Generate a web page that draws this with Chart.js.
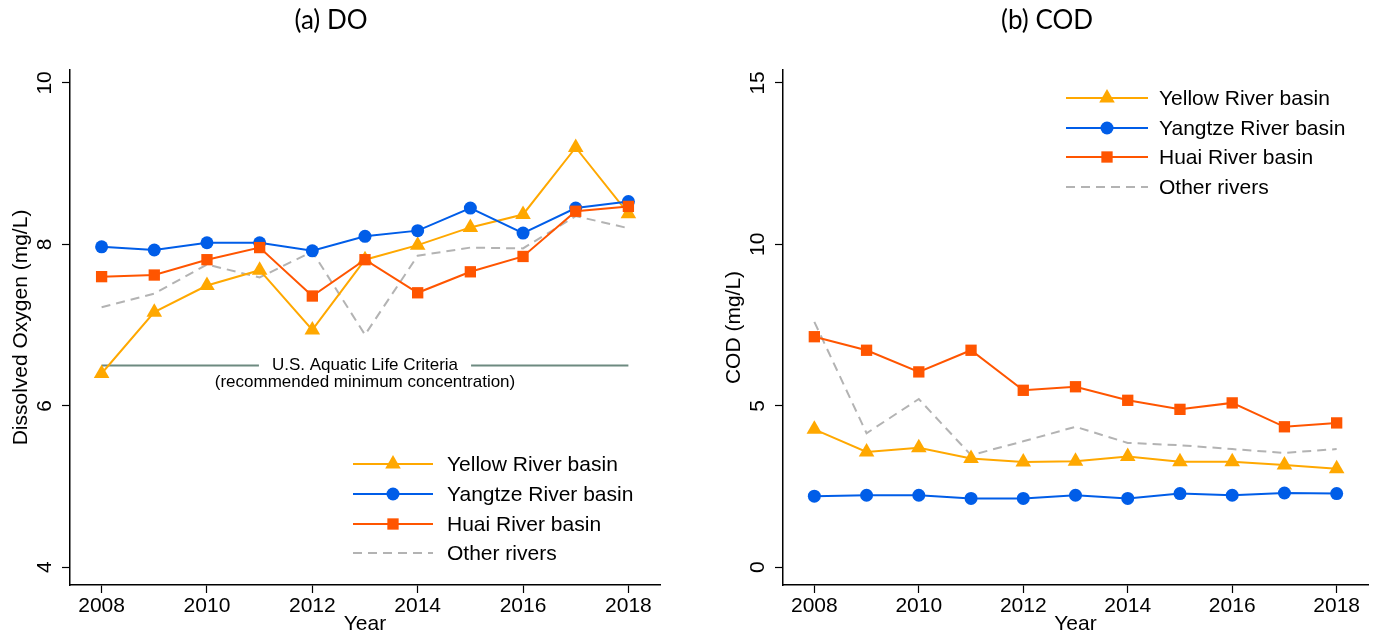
<!DOCTYPE html>
<html>
<head>
<meta charset="utf-8">
<script src="https://cdn.jsdelivr.net/npm/chart.js@4.4.1/dist/chart.umd.min.js"></script>
<style>
  body { margin: 0; background: #fff; }
  .panel { position: absolute; top: 0; height: 635px; }
  #left { left: 0; width: 688px; }
  #right { left: 688px; width: 689px; }
</style>
</head>
<body>
<div class="panel" id="left"><canvas id="chartDO"></canvas></div>
<div class="panel" id="right"><canvas id="chartCOD"></canvas></div>
<script>
// data
var years = [2008, 2009, 2010, 2011, 2012, 2013, 2014, 2015, 2016, 2017, 2018];
var yearTicks = [2008, 2010, 2012, 2014, 2016, 2018];
var seriesNames = ['Yellow River basin', 'Yangtze River basin', 'Huai River basin', 'Other rivers'];

// (a) dissolved oxygen, mg/L
var doYellow  = [6.40, 7.16, 7.49, 7.68, 6.94, 7.81, 7.99, 8.21, 8.37, 9.20, 8.38];
var doYangtze = [7.97, 7.93, 8.02, 8.02, 7.92, 8.10, 8.17, 8.45, 8.14, 8.45, 8.53];
var doHuai    = [7.60, 7.62, 7.81, 7.96, 7.36, 7.81, 7.40, 7.66, 7.85, 8.41, 8.47];
var doOther   = [7.22, 7.39, 7.75, 7.59, 7.91, 6.88, 7.86, 7.96, 7.95, 8.35, 8.20];
var doTicks = [4, 6, 8, 10];
var doCriteria = 6.5;

// (b) chemical oxygen demand, mg/L
var codYellow  = [4.27, 3.57, 3.70, 3.37, 3.26, 3.28, 3.43, 3.27, 3.27, 3.17, 3.05];
var codYangtze = [2.20, 2.23, 2.23, 2.13, 2.13, 2.23, 2.13, 2.28, 2.23, 2.30, 2.28];
var codHuai    = [7.14, 6.72, 6.05, 6.72, 5.48, 5.59, 5.17, 4.89, 5.09, 4.35, 4.47];
var codOther   = [7.60, 4.15, 5.21, 3.47, 3.90, 4.35, 3.85, 3.78, 3.66, 3.54, 3.66];
var codTicks = [0, 5, 10, 15];

var colors = ['#ffa800', '#005de8', '#ff5500', '#b3b3b3'];
var styles = ['triangle', 'circle', 'rect', false];
var radii = [9, 6.5, 8, 0];
var order = [2, 1, 0, 3];
var FONT = '"Liberation Sans", Arial, sans-serif';

function pts(vals) {
  return years.map(function (y, i) { return { x: y, y: vals[i] }; });
}

function makeDatasets(list) {
  return list.map(function (vals, i) {
    return {
      label: seriesNames[i],
      data: pts(vals),
      borderColor: colors[i],
      backgroundColor: colors[i],
      borderWidth: 2,
      borderDash: i === 3 ? [9, 6] : [],
      pointStyle: styles[i],
      pointRadius: radii[i],
      pointBorderWidth: 0,
      pointBackgroundColor: colors[i],
      order: order[i],
      tension: 0
    };
  });
}

// panel title + legend drawn in fixed spots like the original figure
var decor = {
  id: 'decor',
  afterDraw: function (chart, args, opts) {
    var ctx = chart.ctx;
    ctx.save();
    ctx.fillStyle = '#000';
    ctx.font = '26px Lato, "Open Sans", sans-serif';
    ctx.textAlign = 'center';
    ctx.textBaseline = 'middle';
    ctx.fillText(opts.title, opts.titleX, 21);

    var L = opts.legend;
    ctx.font = '21px ' + FONT;
    ctx.textAlign = 'left';
    seriesNames.forEach(function (name, i) {
      var y = L.rows[i];
      ctx.strokeStyle = colors[i];
      ctx.lineWidth = 2;
      ctx.setLineDash(i === 3 ? [9, 6] : []);
      ctx.beginPath();
      ctx.moveTo(L.x0, y);
      ctx.lineTo(L.x1, y);
      ctx.stroke();
      ctx.setLineDash([]);
      if (styles[i]) {
        ctx.fillStyle = colors[i];
        Chart.helpers.drawPoint(ctx, {
          pointStyle: styles[i], radius: radii[i], borderWidth: 0, rotation: 0
        }, (L.x0 + L.x1) / 2, y);
      }
      ctx.fillStyle = '#000';
      ctx.fillText(name, L.tx, y + 1);
    });
    ctx.restore();
  }
};

// U.S. criteria reference line on the DO panel
var criteria = {
  id: 'criteria',
  beforeDatasetsDraw: function (chart) {
    if (chart.canvas.id !== 'chartDO') return;
    var ctx = chart.ctx;
    var xs = chart.scales.x, ys = chart.scales.y;
    var y = ys.getPixelForValue(doCriteria);
    var x0 = xs.getPixelForValue(years[0]);
    var x1 = xs.getPixelForValue(years[years.length - 1]);
    var mid = (x0 + x1) / 2;
    ctx.save();
    ctx.font = '17px ' + FONT;
    var w = ctx.measureText('U.S. Aquatic Life Criteria').width;
    ctx.strokeStyle = '#6d8a80';
    ctx.lineWidth = 2;
    ctx.beginPath();
    ctx.moveTo(x0, y); ctx.lineTo(mid - w / 2 - 13, y);
    ctx.moveTo(mid + w / 2 + 13, y); ctx.lineTo(x1, y);
    ctx.stroke();
    ctx.fillStyle = '#000';
    ctx.textAlign = 'center';
    ctx.textBaseline = 'middle';
    ctx.fillText('U.S. Aquatic Life Criteria', mid, y);
    ctx.fillText('(recommended minimum concentration)', mid, y + 17);
    ctx.restore();
  }
};

function makeChart(id, datasets, yMin, yMax, yTicks, yTitle, yWidth, yTitlePad, padRight, decorOpts) {
  return new Chart(document.getElementById(id), {
    type: 'line',
    data: { datasets: datasets },
    plugins: [criteria, decor],
    options: {
      responsive: true,
      maintainAspectRatio: false,
      animation: false,
      layout: { padding: { top: 70, right: padRight, bottom: 0, left: 0 } },
      plugins: {
        legend: { display: false },
        tooltip: { enabled: false },
        decor: decorOpts
      },
      scales: {
        x: {
          type: 'linear',
          min: 2007.4,
          max: 2018.6,
          afterBuildTicks: function (s) { s.ticks = yearTicks.map(function (v) { return { value: v }; }); },
          afterFit: function (s) { s.height = 50; },
          ticks: { color: '#000', font: { family: FONT, size: 21 }, padding: 1, callback: function (v) { return String(v); } },
          grid: { drawOnChartArea: false, tickLength: 8, color: '#000', tickWidth: 1.2 },
          border: { color: '#000', width: 1.5 },
          title: { display: true, text: 'Year', color: '#000', font: { family: FONT, size: 21, lineHeight: 1 }, padding: 0 }
        },
        y: {
          min: yMin,
          max: yMax,
          afterBuildTicks: function (s) { s.ticks = yTicks.map(function (v) { return { value: v }; }); },
          afterFit: function (s) { s.width = yWidth; },
          ticks: { color: '#000', font: { family: FONT, size: 21 }, padding: 5, minRotation: 90, maxRotation: 90, crossAlign: 'center', callback: function (v) { return String(v); } },
          grid: { drawOnChartArea: false, tickLength: 8, color: '#000', tickWidth: 1.2 },
          border: { color: '#000', width: 1.5 },
          title: { display: true, text: yTitle, color: '#000', font: { family: FONT, size: 21 }, padding: { top: yTitlePad, bottom: 0 } }
        }
      }
    }
  });
}

makeChart('chartDO', makeDatasets([doYellow, doYangtze, doHuai, doOther]),
  3.78, 10.16, doTicks, 'Dissolved Oxygen (mg/L)', 70, 9, 28,
  { title: '(a) DO', titleX: 331, legend: { x0: 353, x1: 433, tx: 447, rows: [464, 494, 524, 553] } });

makeChart('chartCOD', makeDatasets([codYellow, codYangtze, codHuai, codOther]),
  -0.55, 15.4, codTicks, 'COD (mg/L)', 95, 34, 9,
  { title: '(b) COD', titleX: 359, legend: { x0: 378, x1: 460, tx: 471, rows: [98, 128, 157, 187] } });
</script>
</body>
</html>
